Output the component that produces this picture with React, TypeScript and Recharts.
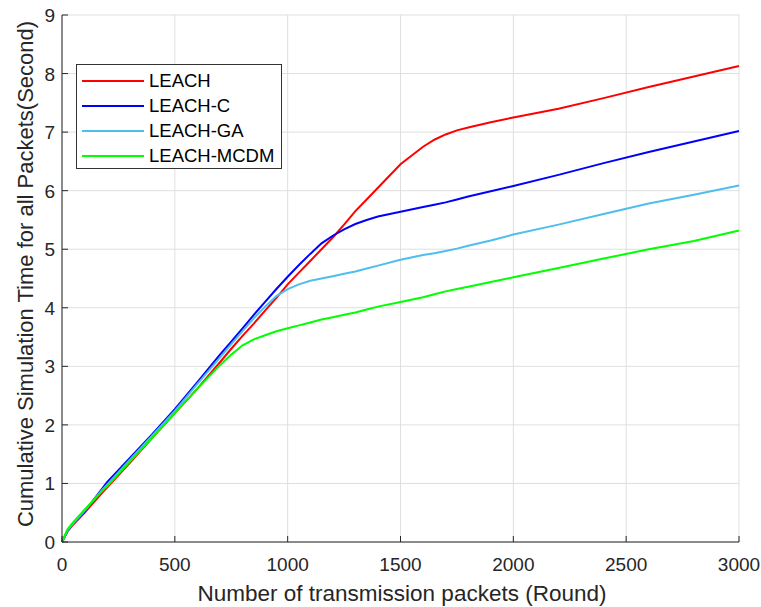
import { LineChart, Line, CartesianGrid, XAxis, YAxis, Legend } from "recharts";

// rounds on the x axis
const rounds = [
  0, 25, 50, 100, 180, 200, 300, 400, 500, 600, 700, 750, 800, 850, 900, 950,
  1000, 1050, 1100, 1150, 1200, 1250, 1300, 1350, 1400, 1500, 1600, 1650, 1700,
  1750, 1800, 1900, 2000, 2200, 2400, 2600, 2800, 3000,
];

const leach = [
  0, 0.18, 0.3, 0.5, 0.85, 0.93, 1.35, 1.78, 2.2, 2.62, 3.07, 3.3, 3.52, 3.73,
  3.95, 4.17, 4.4, 4.6, 4.8, 5.0, 5.2, 5.42, 5.65, 5.85, 6.05, 6.45, 6.75, 6.87,
  6.96, 7.03, 7.08, 7.17, 7.25, 7.4, 7.58, 7.77, 7.95, 8.13,
];
const leachC = [
  0, 0.2, 0.32, 0.52, 0.92, 1.02, 1.43, 1.84, 2.27, 2.73, 3.2, 3.42, 3.65, 3.88,
  4.1, 4.32, 4.53, 4.73, 4.92, 5.1, 5.23, 5.34, 5.43, 5.5, 5.56, 5.64, 5.72,
  5.76, 5.8, 5.85, 5.9, 5.99, 6.08, 6.27, 6.47, 6.66, 6.84, 7.02,
];
const leachGA = [
  0, 0.2, 0.32, 0.53, 0.9, 0.98, 1.4, 1.82, 2.24, 2.7, 3.15, 3.38, 3.6, 3.82,
  4.02, 4.2, 4.32, 4.4, 4.46, 4.5, 4.54, 4.58, 4.62, 4.67, 4.72, 4.82, 4.9, 4.93,
  4.97, 5.01, 5.06, 5.15, 5.25, 5.42, 5.6, 5.78, 5.93, 6.09,
];
const leachMCDM = [
  0, 0.22, 0.34, 0.55, 0.88, 0.95, 1.37, 1.78, 2.2, 2.62, 3.02, 3.2, 3.36, 3.46,
  3.53, 3.6, 3.65, 3.7, 3.75, 3.8, 3.84, 3.88, 3.92, 3.97, 4.02, 4.1, 4.18, 4.23,
  4.28, 4.32, 4.36, 4.44, 4.52, 4.68, 4.84, 5.0, 5.14, 5.32,
];

const xTicks = [0, 500, 1000, 1500, 2000, 2500, 3000];
const yTicks = [0, 1, 2, 3, 4, 5, 6, 7, 8, 9];

const series = [
  { key: "leach", name: "LEACH", color: "#ff0000" },
  { key: "leachC", name: "LEACH-C", color: "#0000ff" },
  { key: "leachGA", name: "LEACH-GA", color: "#4dbeee" },
  { key: "leachMCDM", name: "LEACH-MCDM", color: "#00ff00" },
];

const data = rounds.map((r, i) => ({
  round: r,
  leach: leach[i],
  leachC: leachC[i],
  leachGA: leachGA[i],
  leachMCDM: leachMCDM[i],
}));

const axisColor = "#262626";
const font = "'Liberation Sans', Arial, sans-serif";

const XTick = (props: any) => {
  const { x, y, payload } = props;
  return (
    <g>
      <line x1={x} y1={y} x2={x} y2={y - 6} stroke={axisColor} strokeWidth={1} />
      <text x={x} y={y + 29} textAnchor="middle" fill={axisColor} fontSize={19} fontFamily={font}>
        {payload.value}
      </text>
    </g>
  );
};

const YTick = (props: any) => {
  const { x, y, payload } = props;
  return (
    <g>
      <line x1={x} y1={y} x2={x + 6} y2={y} stroke={axisColor} strokeWidth={1} />
      <text x={x - 7} y={y + 7} textAnchor="end" fill={axisColor} fontSize={19} fontFamily={font}>
        {payload.value}
      </text>
    </g>
  );
};

const LegendBox = () => (
  <div
    style={{
      width: 206,
      height: 105,
      border: "1px solid #333",
      background: "#fff",
      boxSizing: "border-box",
      padding: "3px 0 0 5px",
      fontFamily: font,
      fontSize: 18.5,
      color: "#000",
    }}
  >
    {series.map((s) => (
      <div key={s.key} style={{ display: "flex", alignItems: "center", height: 25 }}>
        <div style={{ width: 62, height: 2, background: s.color, marginRight: 5 }} />
        <span>{s.name}</span>
      </div>
    ))}
  </div>
);

export default function App() {
  return (
    <div style={{ position: "absolute", left: 0, top: 0, background: "#fff" }}>
      <LineChart
        width={761}
        height={607}
        data={data}
        margin={{ top: 15, right: 22, bottom: 0, left: 0 }}
      >
        <CartesianGrid stroke="#dfdfdf" strokeWidth={1} />
        <XAxis
          dataKey="round"
          type="number"
          domain={[0, 3000]}
          ticks={xTicks}
          height={65}
          tickLine={false}
          tickSize={0}
          tickMargin={0}
          stroke={axisColor}
          tick={<XTick />}
          interval={0}
          label={{
            content: () => (
              <text x={402} y={601} textAnchor="middle" fill={axisColor} fontSize={22.5} fontFamily={font}>
                Number of transmission packets (Round)
              </text>
            ),
          }}
        />
        <YAxis
          type="number"
          domain={[0, 9]}
          ticks={yTicks}
          width={62}
          tickLine={false}
          tickSize={0}
          tickMargin={0}
          stroke={axisColor}
          tick={<YTick />}
          interval={0}
          label={{
            content: () => (
              <text
                x={33}
                y={274}
                transform="rotate(-90 33 274)"
                textAnchor="middle"
                fill={axisColor}
                fontSize={22}
                fontFamily={font}
              >
                Cumulative Simulation Time for all Packets(Second)
              </text>
            ),
          }}
        />
        <Legend
          layout="vertical"
          align="center"
          verticalAlign="middle"
          wrapperStyle={{ left: 76, top: 64, width: 206, height: 105 }}
          content={() => <LegendBox />}
        />
        {series.map((s) => (
          <Line
            key={s.key}
            type="linear"
            dataKey={s.key}
            name={s.name}
            stroke={s.color}
            strokeWidth={2}
            dot={false}
            isAnimationActive={false}
          />
        ))}
      </LineChart>
    </div>
  );
}
